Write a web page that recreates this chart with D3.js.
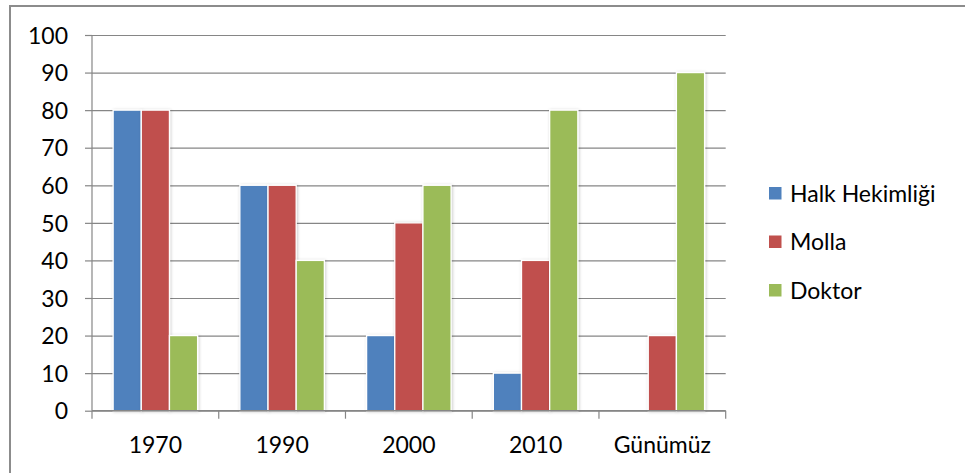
<!DOCTYPE html>
<html>
<head>
<meta charset="utf-8">
<script src="https://cdn.jsdelivr.net/npm/d3@7/dist/d3.min.js"></script>
<style>
  html, body { margin: 0; padding: 0; background: #fff; }
  svg { display: block; }
  text { font-family: Lato, "Open Sans", sans-serif; fill: #000; }
</style>
</head>
<body>
<svg id="chart" width="965" height="473"></svg>
<script>
// Categories, series and tick values
const categories = ["1970", "1990", "2000", "2010", "Günümüz"];
const seriesNames = ["Halk Hekimliği", "Molla", "Doktor"];
const seriesColors = ["#4F81BD", "#C0504D", "#9BBB59"];
const halkHekimligi = [80, 60, 20, 10, 0];
const molla = [80, 60, 50, 40, 20];
const doktor = [20, 40, 60, 80, 90];
const yTicks = [0, 10, 20, 30, 40, 50, 60, 70, 80, 90, 100];

const seriesValues = [halkHekimligi, molla, doktor];

const svg = d3.select("#chart");
const W = 965, H = 473;
const plot = { left: 92, right: 725.7, top: 35, bottom: 410.7 };
const fontSize = "23px";

// Outer chart frame (only top and left edges fall inside the view)
svg.append("rect")
  .attr("x", 10).attr("y", 6)
  .attr("width", W + 20).attr("height", H + 20)
  .attr("fill", "#fff")
  .attr("stroke", "#8c8c8c")
  .attr("stroke-width", 2);

// Soft shadow under the bars
const defs = svg.append("defs");
const f = defs.append("filter").attr("id", "barShadow")
  .attr("x", "-30%").attr("y", "-10%").attr("width", "160%").attr("height", "130%");
f.append("feDropShadow")
  .attr("dx", 0.8).attr("dy", 0.5)
  .attr("stdDeviation", 1.8)
  .attr("flood-color", "#000")
  .attr("flood-opacity", 0.22);

const y = d3.scaleLinear().domain([0, 100]).range([plot.bottom, plot.top]);
const x0 = d3.scaleBand().domain(categories).range([plot.left, plot.right]).padding(0);
const bw = x0.bandwidth() / 4.5;
const x1 = d3.scaleBand().domain(seriesNames).range([0.75 * bw, 3.75 * bw]).padding(0);

// Horizontal gridlines with tick stubs on the left
const yAxis = d3.axisLeft(y).tickValues(yTicks).tickSize(7).tickSizeOuter(0).tickFormat(d3.format("d"));
const gy = svg.append("g").attr("transform", `translate(${plot.left},0)`).call(yAxis);
gy.select(".domain").remove();
gy.selectAll(".tick line").attr("stroke", "#868686").attr("stroke-width", 1.2);
gy.selectAll(".tick").append("line")
  .attr("x1", 0).attr("x2", plot.right - plot.left)
  .attr("stroke", "#868686").attr("stroke-width", 1.2);
gy.selectAll(".tick text")
  .attr("x", -24).attr("dy", "0.36em")
  .style("font-size", fontSize)
  .style("font-family", "Lato, 'Open Sans', sans-serif")
  .attr("fill", "#000");

// Vertical axis line
svg.append("line")
  .attr("x1", plot.left).attr("x2", plot.left)
  .attr("y1", plot.top).attr("y2", plot.bottom)
  .attr("stroke", "#868686").attr("stroke-width", 1.2);

// Bars
const groups = svg.append("g").selectAll("g")
  .data(categories)
  .join("g")
  .attr("transform", d => `translate(${x0(d)},0)`);

groups.selectAll("rect")
  .data((c, i) => seriesNames.map((s, k) => ({ s, k, v: seriesValues[k][i] })).filter(d => d.v > 0))
  .join("rect")
  .attr("x", d => x1(d.s))
  .attr("y", d => y(d.v))
  .attr("width", x1.bandwidth())
  .attr("height", d => y(0) - y(d.v))
  .attr("fill", d => seriesColors[d.k])
  .attr("stroke", "#fff")
  .attr("stroke-width", 1.3)
  .attr("filter", "url(#barShadow)");

// Category axis with boundary tick marks
const boundaries = categories.map(c => x0(c)).concat([plot.right]);
svg.append("line")
  .attr("x1", plot.left).attr("x2", plot.right)
  .attr("y1", plot.bottom).attr("y2", plot.bottom)
  .attr("stroke", "#868686").attr("stroke-width", 1.2);
svg.append("g").selectAll("line")
  .data(boundaries)
  .join("line")
  .attr("x1", d => d).attr("x2", d => d)
  .attr("y1", plot.bottom).attr("y2", plot.bottom + 8)
  .attr("stroke", "#868686").attr("stroke-width", 1.2);
svg.append("g").selectAll("text")
  .data(categories)
  .join("text")
  .attr("x", d => x0(d) + x0.bandwidth() / 2)
  .attr("y", 453)
  .attr("text-anchor", "middle")
  .style("font-size", fontSize)
  .text(d => d);

// Legend
const legend = svg.append("g").selectAll("g")
  .data(seriesNames)
  .join("g")
  .attr("transform", (d, i) => `translate(769,${187 + i * 48.5})`);
legend.append("rect")
  .attr("width", 12.5).attr("height", 12.5)
  .attr("fill", (d, i) => seriesColors[i]);
legend.append("text")
  .attr("x", 21).attr("y", 14.5)
  .style("font-size", fontSize)
  .text(d => d);
</script>
</body>
</html>
